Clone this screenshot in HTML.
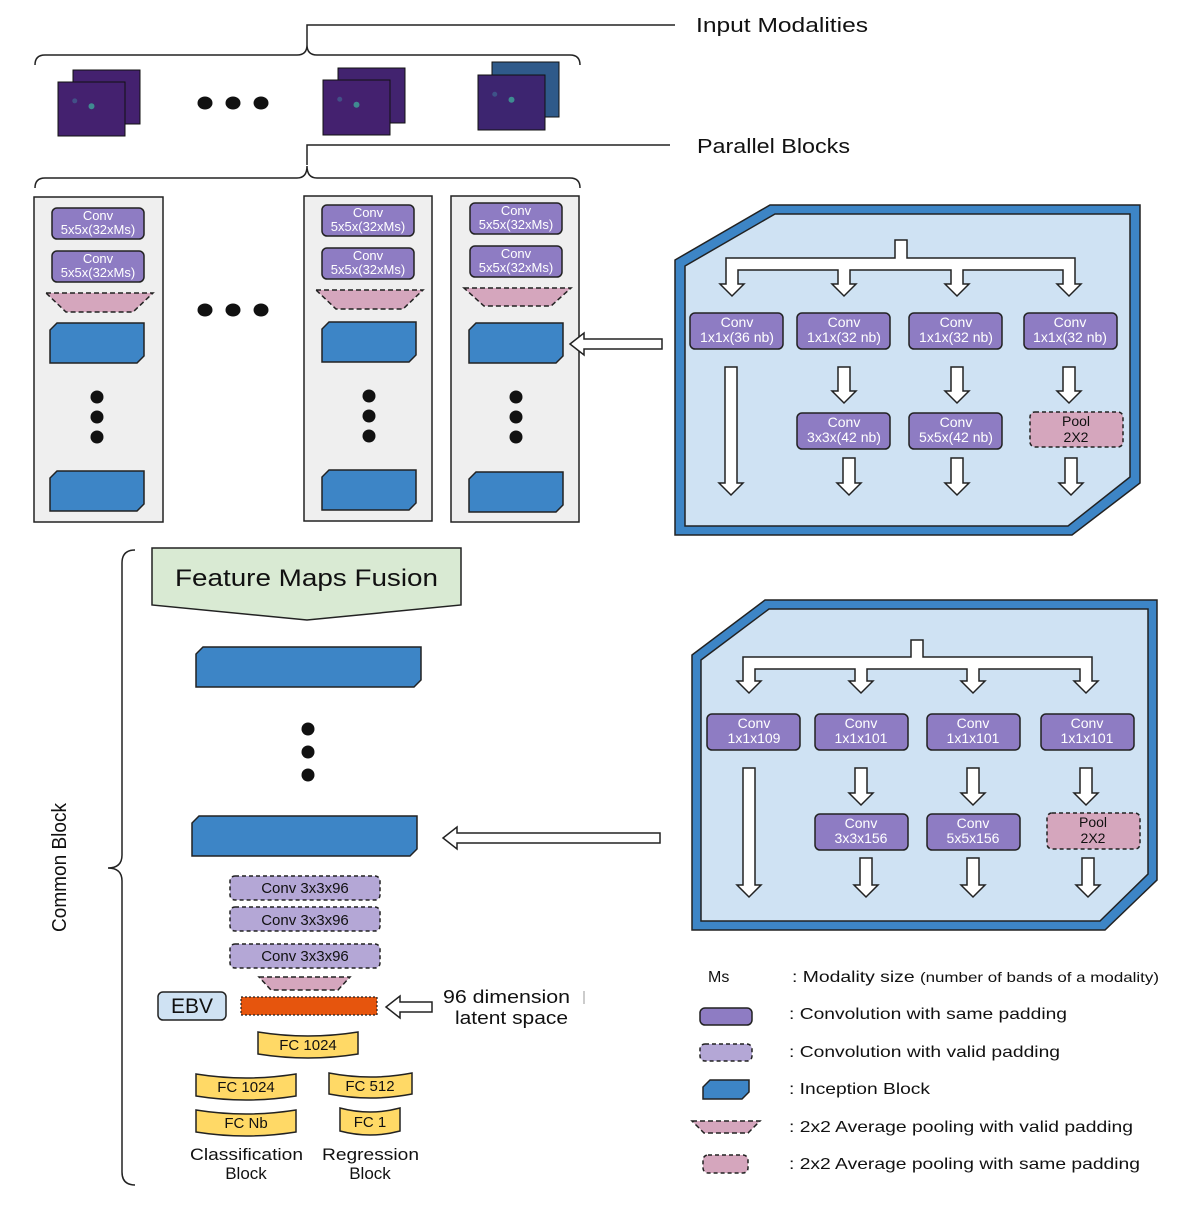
<!DOCTYPE html>
<html><head><meta charset="utf-8"><style>
html,body{margin:0;padding:0;background:#fff}
svg{display:block}
text{font-family:"Liberation Sans","DejaVu Sans",sans-serif;fill:#111}
</style></head><body>
<svg id="s" width="1200" height="1205" viewBox="0 0 1200 1205" xmlns="http://www.w3.org/2000/svg">
<g id="shapes"></g>
<text x="696" y="32" font-size="20" textLength="172" lengthAdjust="spacingAndGlyphs">Input Modalities</text>
<text x="697" y="153" font-size="20" textLength="153" lengthAdjust="spacingAndGlyphs">Parallel Blocks</text>
<g font-size="13" text-anchor="middle">
<text x="98" y="220" style="fill:#fff">Conv</text><text x="98" y="234" style="fill:#fff">5x5x(32xMs)</text>
<text x="98" y="263" style="fill:#fff">Conv</text><text x="98" y="277" style="fill:#fff">5x5x(32xMs)</text>
<text x="368" y="217" style="fill:#fff">Conv</text><text x="368" y="231" style="fill:#fff">5x5x(32xMs)</text>
<text x="368" y="260" style="fill:#fff">Conv</text><text x="368" y="274" style="fill:#fff">5x5x(32xMs)</text>
<text x="516" y="215" style="fill:#fff">Conv</text><text x="516" y="229" style="fill:#fff">5x5x(32xMs)</text>
<text x="516" y="258" style="fill:#fff">Conv</text><text x="516" y="272" style="fill:#fff">5x5x(32xMs)</text>
</g>
<g font-size="14" text-anchor="middle">
<text x="737" y="327" style="fill:#fff">Conv</text><text x="737" y="342" style="fill:#fff">1x1x(36 nb)</text>
<text x="844" y="327" style="fill:#fff">Conv</text><text x="844" y="342" style="fill:#fff">1x1x(32 nb)</text>
<text x="956" y="327" style="fill:#fff">Conv</text><text x="956" y="342" style="fill:#fff">1x1x(32 nb)</text>
<text x="1070" y="327" style="fill:#fff">Conv</text><text x="1070" y="342" style="fill:#fff">1x1x(32 nb)</text>
<text x="844" y="427" style="fill:#fff">Conv</text><text x="844" y="442" style="fill:#fff">3x3x(42 nb)</text>
<text x="956" y="427" style="fill:#fff">Conv</text><text x="956" y="442" style="fill:#fff">5x5x(42 nb)</text>
<text x="1076" y="426">Pool</text><text x="1076" y="442">2X2</text>
<text x="754" y="728" style="fill:#fff">Conv</text><text x="754" y="743" style="fill:#fff">1x1x109</text>
<text x="861" y="728" style="fill:#fff">Conv</text><text x="861" y="743" style="fill:#fff">1x1x101</text>
<text x="973" y="728" style="fill:#fff">Conv</text><text x="973" y="743" style="fill:#fff">1x1x101</text>
<text x="1087" y="728" style="fill:#fff">Conv</text><text x="1087" y="743" style="fill:#fff">1x1x101</text>
<text x="861" y="828" style="fill:#fff">Conv</text><text x="861" y="843" style="fill:#fff">3x3x156</text>
<text x="973" y="828" style="fill:#fff">Conv</text><text x="973" y="843" style="fill:#fff">5x5x156</text>
<text x="1093" y="827">Pool</text><text x="1093" y="843">2X2</text>
</g>
<text x="175" y="586" font-size="24" textLength="263" lengthAdjust="spacingAndGlyphs">Feature Maps Fusion</text>
<text transform="translate(66,932) rotate(-90)" font-size="20" textLength="129" lengthAdjust="spacingAndGlyphs">Common Block</text>
<g font-size="15" text-anchor="middle">
<text x="305" y="893">Conv 3x3x96</text>
<text x="305" y="925">Conv 3x3x96</text>
<text x="305" y="961">Conv 3x3x96</text>
<text x="308" y="1050">FC 1024</text>
<text x="246" y="1092">FC 1024</text>
<text x="370" y="1091">FC 512</text>
<text x="246" y="1128">FC Nb</text>
<text x="370" y="1127">FC 1</text>
</g>
<text x="192" y="1013" font-size="21" text-anchor="middle">EBV</text>
<text x="443" y="1003" font-size="18" textLength="127" lengthAdjust="spacingAndGlyphs">96 dimension</text>
<text x="455" y="1024" font-size="18" textLength="113" lengthAdjust="spacingAndGlyphs">latent space</text>
<g font-size="17">
<text x="190" y="1160" textLength="113" lengthAdjust="spacingAndGlyphs">Classification</text><text x="246" y="1179" text-anchor="middle">Block</text>
<text x="322" y="1160" textLength="97" lengthAdjust="spacingAndGlyphs">Regression</text><text x="370" y="1179" text-anchor="middle">Block</text>
</g>
<g font-size="16">
<text x="708" y="982">Ms</text>
<text x="792" y="982" textLength="367" lengthAdjust="spacingAndGlyphs">: Modality size <tspan font-size="14">(number of bands of a modality)</tspan></text>
<text x="789" y="1019" textLength="278" lengthAdjust="spacingAndGlyphs">: Convolution with same padding</text>
<text x="789" y="1057" textLength="271" lengthAdjust="spacingAndGlyphs">: Convolution with valid padding</text>
<text x="789" y="1094" textLength="141" lengthAdjust="spacingAndGlyphs">: Inception Block</text>
<text x="789" y="1132" textLength="344" lengthAdjust="spacingAndGlyphs">: 2x2 Average pooling with valid padding</text>
<text x="789" y="1169" textLength="351" lengthAdjust="spacingAndGlyphs">: 2x2 Average pooling with same padding</text>
</g>
</svg>
<script>
var g=document.getElementById('shapes'),h='';
function P(pts,f,s,sw,da){h+='<polygon points="'+pts+'" fill="'+f+'" stroke="'+(s||'#222')+'" stroke-width="'+(sw||1.5)+'"'+(da?' stroke-dasharray="'+da+'"':'')+'/>';}
function R(x1,y1,x2,y2,f,da,rx){h+='<rect x="'+x1+'" y="'+y1+'" width="'+(x2-x1)+'" height="'+(y2-y1)+'" rx="'+(rx==null?5:rx)+'" fill="'+f+'" stroke="#222" stroke-width="1.5"'+(da?' stroke-dasharray="4,3"':'')+'/>';}
function conv(x1,y1,x2,y2){R(x1,y1,x2,y2,'#8e7cc3');}
function blue(x1,y1,x2,y2){var c=7;P((x1+c)+','+y1+' '+x2+','+y1+' '+x2+','+(y2-c)+' '+(x2-c)+','+y2+' '+x1+','+y2+' '+x1+','+(y1+c),'#3d85c6');}
function pool(x1,x2,y1,y2,inset){P(x1+','+y1+' '+x2+','+y1+' '+(x2-inset)+','+y2+' '+(x1+inset)+','+y2,'#d5a6bd','#222',1.5,'5,3');}
function C(x,y,r){h+='<circle cx="'+x+'" cy="'+y+'" r="'+r+'" fill="#111"/>';}
function E(x,y){h+='<ellipse cx="'+x+'" cy="'+y+'" rx="7.5" ry="6.5" fill="#111"/>';}
function down(x,y1,y2){var s=6,w=12,hl=12;P((x-s)+','+y1+' '+(x+s)+','+y1+' '+(x+s)+','+(y2-hl)+' '+(x+w)+','+(y2-hl)+' '+x+','+y2+' '+(x-w)+','+(y2-hl)+' '+(x-s)+','+(y2-hl),'#fff','#222',1.5);}
function left(x1,x2,y){var s=5,w=11,hl=14;P(x1+','+(y-s)+' '+(x2+hl)+','+(y-s)+' '+(x2+hl)+','+(y-w)+' '+x2+','+y+' '+(x2+hl)+','+(y+w)+' '+(x2+hl)+','+(y+s)+' '+x1+','+(y+s),'#fff','#222',1.5);}
function L(d,sw,f){h+='<path d="'+d+'" fill="'+(f||'none')+'" stroke="#222" stroke-width="'+(sw||1.5)+'"/>';}
function img(bx,by,fx,fy,w,hh,c1,c2){h+='<rect x="'+bx+'" y="'+by+'" width="'+w+'" height="'+hh+'" fill="'+c2+'" stroke="#111"/>';h+='<rect x="'+fx+'" y="'+fy+'" width="'+w+'" height="'+hh+'" fill="'+c1+'" stroke="#111"/>';h+='<circle cx="'+(fx+w*0.5)+'" cy="'+(fy+hh*0.45)+'" r="3" fill="#3fb8a0" opacity=".7"/><circle cx="'+(fx+w*0.25)+'" cy="'+(fy+hh*0.35)+'" r="2.5" fill="#3f7fa0" opacity=".5"/>';}
L('M307,45 L307,25 L675,25',1.5);
L('M35,65 Q35,55 45,55 L297,55 Q307,55 307,45 Q307,55 317,55 L570,55 Q580,55 580,65',1.5);
L('M307,165 L307,145 L670,145',1.5);
L('M35,188 Q35,178 45,178 L297,178 Q307,178 307,166 Q307,178 317,178 L570,178 Q580,178 580,188',1.5);
img(73,70,58,82,67,54,'#44216f','#44216f');
img(338,68,323,80,67,55,'#44216f','#42236f');
img(492,62,478,75,67,55,'#3d2570','#2f5a8a');
[205,233,261].forEach(function(x){E(x,103);E(x,310);});
R(34,197,163,522,'#efefef',0,0);R(304,196,432,521,'#efefef',0,0);R(451,196,579,522,'#efefef',0,0);
conv(52,208,144,239);conv(52,251,144,282);pool(46,153,293,312,20);blue(50,323,144,363);C(97,397,6.5);C(97,417,6.5);C(97,437,6.5);blue(50,471,144,511);
conv(322,205,414,236);conv(322,248,414,279);pool(316,423,290,309,20);blue(322,322,416,362);C(369,396,6.5);C(369,416,6.5);C(369,436,6.5);blue(322,470,416,510);
conv(470,203,562,234);conv(470,246,562,277);pool(464,571,288,306,20);blue(469,323,563,363);C(516,397,6.5);C(516,417,6.5);C(516,437,6.5);blue(469,472,563,512);
left(662,570,344);
P('675,260 770,205 1140,205 1140,483 1072,535 675,535','#3d85c6','#222',1.5);
P('685,266 775,214 1130,214 1130,477 1068,526 685,526','#cfe2f3','#222',1.5);
function branch(cx,top,ybar,xs,yend){var s=6;
L('M'+(cx-s)+','+top+' L'+(cx+s)+','+top+' L'+(cx+s)+','+ybar+' L'+(xs[3]+s)+','+ybar+' L'+(xs[3]+s)+','+(yend-12)+' L'+(xs[3]+12)+','+(yend-12)+' L'+xs[3]+','+yend+' L'+(xs[3]-12)+','+(yend-12)+' L'+(xs[3]-s)+','+(yend-12)+' L'+(xs[3]-s)+','+(ybar+12)+' L'+(xs[2]+s)+','+(ybar+12)+' L'+(xs[2]+s)+','+(yend-12)+' L'+(xs[2]+12)+','+(yend-12)+' L'+xs[2]+','+yend+' L'+(xs[2]-12)+','+(yend-12)+' L'+(xs[2]-s)+','+(yend-12)+' L'+(xs[2]-s)+','+(ybar+12)+' L'+(xs[1]+s)+','+(ybar+12)+' L'+(xs[1]+s)+','+(yend-12)+' L'+(xs[1]+12)+','+(yend-12)+' L'+xs[1]+','+yend+' L'+(xs[1]-12)+','+(yend-12)+' L'+(xs[1]-s)+','+(yend-12)+' L'+(xs[1]-s)+','+(ybar+12)+' L'+(xs[0]+s)+','+(ybar+12)+' L'+(xs[0]+s)+','+(yend-12)+' L'+(xs[0]+12)+','+(yend-12)+' L'+xs[0]+','+yend+' L'+(xs[0]-12)+','+(yend-12)+' L'+(xs[0]-s)+','+(yend-12)+' L'+(xs[0]-s)+','+ybar+' L'+(cx-s)+','+ybar+' Z',1.5,'#fff');}
branch(901,240,258,[732,844,957,1069],296);
conv(690,313,783,349);conv(797,313,890,349);conv(909,313,1002,349);conv(1024,313,1117,349);
down(731,367,495);down(844,367,403);down(957,367,403);down(1069,367,403);
conv(797,413,890,449);conv(909,413,1002,449);R(1030,412,1123,447,'#d5a6bd',1);
down(849,458,495);down(957,458,495);down(1071,458,495);
P('692,655 765,600 1157,600 1157,880 1105,930 692,930','#3d85c6','#222',1.5);
P('701,660 769,609 1148,609 1148,874 1100,921 701,921','#cfe2f3','#222',1.5);
branch(917,640,657,[749,861,973,1086],693);
conv(707,714,800,750);conv(815,714,908,750);conv(927,714,1020,750);conv(1041,714,1134,750);
down(749,768,897);down(861,768,805);down(973,768,805);down(1086,768,805);
conv(815,814,908,850);conv(927,814,1020,850);R(1047,813,1140,849,'#d5a6bd',1);
down(866,858,897);down(973,858,897);down(1088,858,897);
left(660,443,838);
L('M135,550 Q122,550 122,563 L122,855 Q122,868 108,868 Q122,868 122,881 L122,1172 Q122,1185 135,1185',1.5);
P('152,548 461,548 461,605 307,620 152,605','#d9ead3','#222',1.5);
blue(196,647,421,687);C(308,729,6.5);C(308,752,6.5);C(308,775,6.5);blue(192,816,417,856);
R(230,876,380,900,'#b4a7d6',1);R(230,907,380,931,'#b4a7d6',1);R(230,944,380,968,'#b4a7d6',1);
pool(259,350,977,990,12);
R(158,992,226,1020,'#cfe2f3',0,5);
h+='<rect x="241" y="997" width="136" height="18" fill="#e6550d" stroke="#222" stroke-width="1.2" stroke-dasharray="2,2"/>';
left(432,386,1007);
h+='<rect x="583" y="991" width="2" height="13" fill="#ccc"/>';
function fc(x1,y1,x2,y2){var c=4;h+='<path d="M'+x1+','+y1+' Q'+((x1+x2)/2)+','+(y1+2*c)+' '+x2+','+y1+' L'+x2+','+(y2-c)+' Q'+((x1+x2)/2)+','+(y2+c)+' '+x1+','+(y2-c)+' Z" fill="#ffd966" stroke="#222" stroke-width="1.5"/>';}
fc(258,1032,358,1058);fc(196,1074,296,1100);fc(329,1073,412,1098);fc(196,1110,296,1136);fc(340,1108,400,1135);
conv(700,1008,752,1025);R(700,1044,752,1061,'#b4a7d6',1);blue(703,1080,749,1099);
pool(692,760,1121,1133,12);R(703,1155,748,1173,'#d5a6bd',1);
g.innerHTML=h;
</script>
</body></html>
